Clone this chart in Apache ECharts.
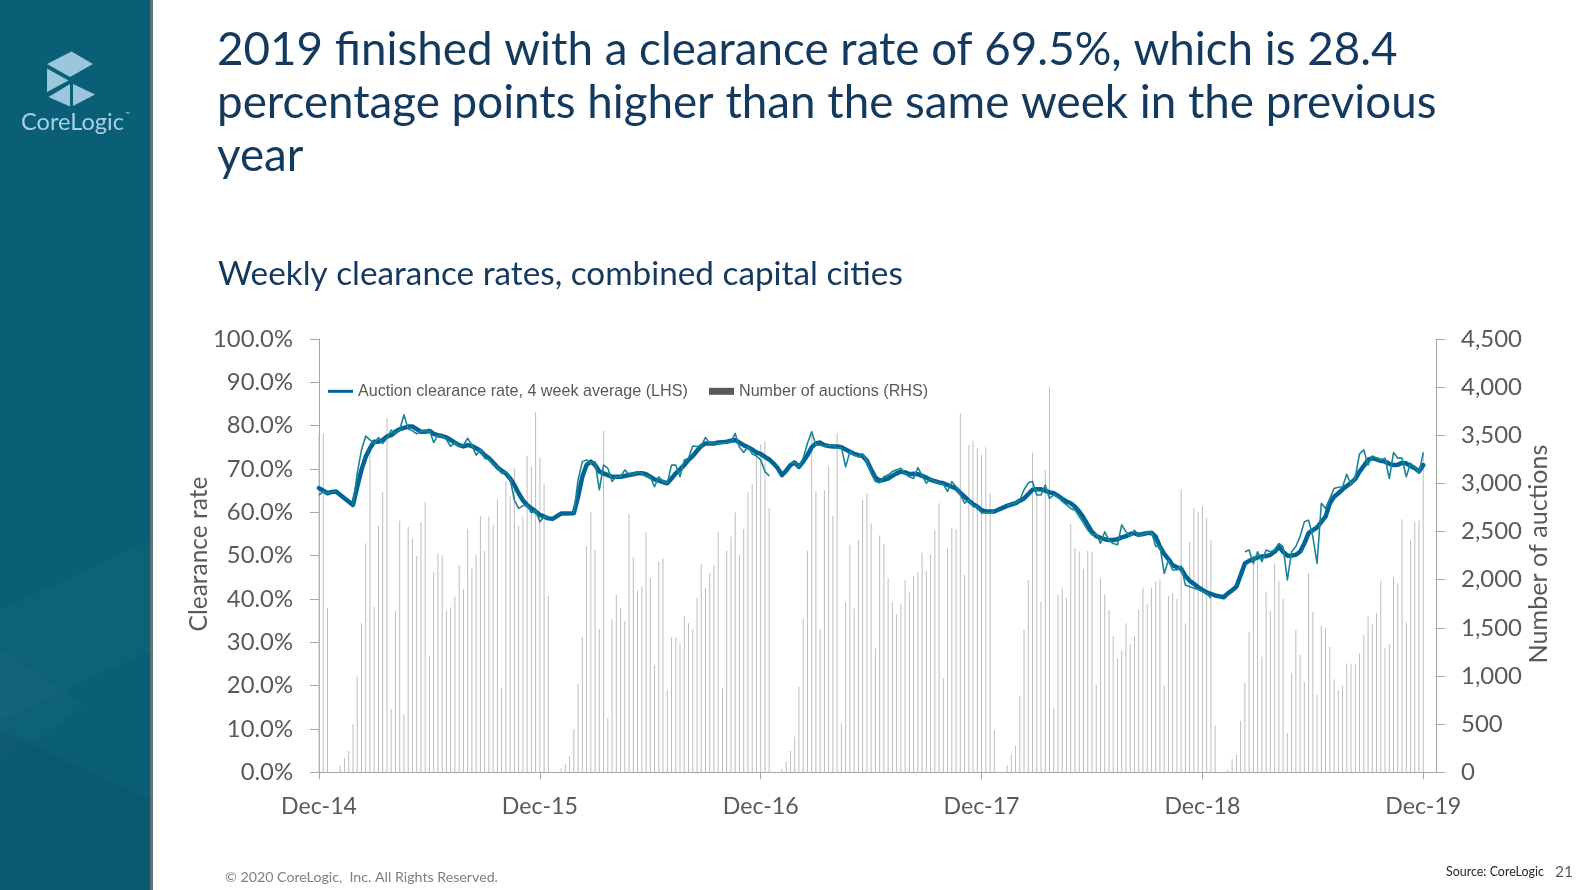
<!DOCTYPE html>
<html><head><meta charset="utf-8">
<script src="https://cdn.jsdelivr.net/npm/echarts@6/dist/echarts.min.js"></script>
<style>html,body{margin:0;padding:0;background:#fff;overflow:hidden}#chart{width:1594px;height:890px}</style>
</head><body><div id="chart"></div>
<script>
// ---------------- DATA ----------------
const tickLabels = ['Dec-14','Dec-15','Dec-16','Dec-17','Dec-18','Dec-19'];
const weeksPerTick = 52;
const avgName = 'Auction clearance rate, 4 week average (LHS)';
const weeklyName = 'Auction clearance rate, weekly (LHS)';
const barName = 'Number of auctions (RHS)';
const leftAxisName = 'Clearance rate';
const rightAxisName = 'Number of auctions';

// number of auctions per week (RHS)
const auctions = [
3510,3520,1710,0,0,66,145,222,502,993,
1547,2378,3417,1720,2558,2908,3676,658,1679,2613,
602,2548,2430,2246,2596,2804,1208,2084,2274,2253,
1679,1713,1824,2150,1904,2523,2118,2253,2662,2298,
2655,2568,2835,872,3029,2863,3153,2558,2655,3288,
3178,3738,3268,2998,1831,0,0,42,87,170,
450,917,1402,2354,2703,2309,1488,3545,561,1589,
1842,1710,1572,2686,2233,1883,1928,2492,2021,1115,
2188,2222,855,1402,1402,1340,1617,1547,1485,1814,
2164,1911,2067,2153,2492,872,2302,2447,2697,2257,
2527,2908,2994,3313,3406,3441,2742,0,0,31,
111,225,370,890,1596,2302,3548,2922,1485,2932,
3181,2665,3520,509,1765,2361,1703,2413,2828,2897,
2586,1288,2458,2371,2015,1772,1641,1748,1997,1866,
2039,2077,2281,2091,2267,2517,2793,976,2326,2541,
2527,3728,2049,3399,3444,3372,3295,3375,2897,440,
0,0,76,190,277,793,1478,1997,3320,2897,
1772,3140,3998,672,1848,1918,1807,2575,2326,2292,
2108,2298,2292,907,2015,1848,1686,1416,1184,1270,
1547,1329,1416,1693,1918,1748,1918,1985,2000,896,
1831,1859,1800,2939,1547,2395,2748,2707,2766,2638,
2413,481,0,0,24,135,180,536,930,1454,
2250,2230,1200,1876,1675,2170,1990,1800,405,1035,
1478,1218,941,2067,1668,803,1520,1495,1305,966,
855,897,1132,1121,1121,1236,1426,1623,1537,1651,
1990,1288,1333,2025,1963,2627,1558,2420,2603,2613,
3330];

// 4 week average clearance rate, % (LHS)
const clearanceAvg = [
65.6,65.0,64.4,64.7,64.8,null,null,null,61.7,65.9,
69.8,72.8,74.8,76.3,76.3,76.7,77.5,77.8,78.6,79.2,
79.5,79.8,79.8,79.2,78.6,78.6,78.8,78.1,77.8,77.6,
77.3,76.7,76.1,75.5,75.2,75.5,75.3,74.8,74.2,73.2,
72.5,71.5,70.4,69.6,69.0,67.8,66.3,64.4,62.8,61.7,
60.9,60.2,59.4,59.0,58.6,58.5,null,59.7,null,null,
59.8,63.6,68.2,70.9,71.7,70.9,69.4,69.0,68.6,68.2,
68.2,68.2,68.4,68.6,68.8,69.0,69.0,68.8,68.2,67.6,
67.3,67.0,66.7,67.8,69.0,69.9,70.9,72.1,73.0,74.2,
75.3,75.9,75.9,75.9,76.1,76.2,76.3,76.5,76.7,76.1,
75.5,75.0,74.5,73.8,73.5,72.8,72.2,71.3,70.2,68.6,
69.6,70.9,71.5,70.5,71.7,73.2,75.0,75.9,76.1,75.5,
75.3,75.2,75.2,75.0,74.5,74.0,73.5,73.2,73.0,71.9,
69.9,68.0,67.3,67.5,67.8,68.4,69.0,69.4,69.2,68.8,
68.9,68.8,68.4,68.0,67.5,67.2,66.9,66.7,66.3,65.9,
65.5,64.5,63.6,62.7,61.9,61.3,60.5,60.2,60.2,60.2,
null,null,61.5,61.8,62.1,62.7,63.2,64.2,65.2,65.3,
65.3,65.0,64.6,64.4,63.8,63.1,62.5,62.1,61.3,60.2,
58.8,57.1,55.5,54.5,54.1,53.8,53.6,53.6,53.8,54.2,
54.5,55.0,55.2,54.8,55.0,55.2,55.3,54.4,52.1,50.4,
49.2,47.8,47.3,47.0,45.3,44.2,43.5,42.7,42.1,41.5,
41.2,40.8,null,40.4,41.3,42.0,42.8,45.5,48.2,48.8,
49.2,49.6,49.8,49.9,50.2,50.9,52.1,50.9,50.0,50.0,
50.2,50.9,52.8,55.2,55.9,56.5,57.8,59.0,62.1,63.6,
64.4,65.3,66.1,66.8,67.7,69.4,70.7,72.1,72.5,72.2,
71.9,71.7,71.2,70.9,71.0,71.4,71.3,70.7,70.2,69.4,
70.9];

// weekly clearance rate, % (LHS, thin line)
const clearanceWeekly = [
64.0,64.8,64.4,64.7,64.8,null,null,null,61.7,69.0,
74.4,77.6,76.7,75.9,77.3,75.9,77.1,79.0,78.1,79.0,
82.5,79.2,78.8,78.1,78.8,78.6,79.0,76.1,77.8,77.6,
76.8,75.2,76.1,75.2,75.5,77.1,75.5,73.2,74.4,72.5,
72.2,70.9,70.5,69.0,69.4,67.8,62.8,60.9,61.5,61.7,
59.9,60.5,57.8,59.0,58.8,null,null,null,null,null,
59.8,67.5,71.7,72.1,71.3,71.7,65.2,70.9,70.2,67.1,
68.2,68.2,69.8,68.8,68.8,69.4,69.0,68.2,68.2,65.9,
68.2,67.1,66.7,70.9,70.9,68.2,72.1,72.5,75.3,75.2,
75.3,77.3,75.9,75.9,75.9,75.9,76.1,76.3,78.2,75.0,
73.8,75.2,73.5,73.0,72.1,69.4,68.4,null,null,null,
null,71.3,71.5,70.5,72.5,75.9,78.6,75.5,75.5,75.2,
75.5,75.5,74.8,75.0,70.5,74.0,73.2,72.8,73.5,71.7,
69.0,67.1,66.8,68.2,68.6,69.4,69.8,70.2,68.8,68.2,
67.8,70.3,68.5,66.7,67.8,67.1,66.7,66.5,64.8,67.1,
65.9,64.0,62.1,62.8,61.3,61.3,59.8,59.9,59.9,60.2,
null,null,61.5,61.9,62.2,62.8,65.2,66.8,67.1,64.0,
64.0,66.3,63.2,64.0,63.6,62.5,61.7,60.9,60.5,59.0,
57.5,55.9,54.8,55.0,52.8,55.5,53.6,52.8,52.5,57.1,
55.5,54.4,55.9,54.4,55.0,55.2,55.5,52.1,52.2,45.9,
49.0,46.7,46.7,47.6,43.2,42.8,42.5,42.2,41.7,41.3,
40.2,null,null,null,null,null,null,null,50.9,51.3,
48.2,50.9,48.6,51.3,50.9,51.3,52.8,52.1,44.4,50.9,
52.1,54.4,57.8,58.2,54.4,48.2,62.1,60.9,63.2,65.5,
65.8,65.9,68.8,66.3,68.2,73.5,74.4,70.9,73.0,72.5,
72.1,72.5,67.8,73.8,72.5,72.5,68.2,71.3,70.5,69.0,
73.8];

// ---------------- TEXT FITTING ----------------
const cv = document.createElement('canvas').getContext('2d');
function textW(t, fam, size, weight){ cv.font = (weight||'normal') + ' ' + size + 'px ' + fam; return cv.measureText(t).width; }
function fit(t, fam, w, weight){ return 100 * w / textW(t, fam, 100, weight); }
function hasFont(f){
  const s = 'abcdefghijklmnopqrstuvwxyz ABCDEFG 0123456789';
  return textW(s, "'" + f + "', monospace", 50) !== textW(s, 'monospace', 50) ||
         textW(s, "'" + f + "', serif", 50) !== textW(s, 'serif', 50);
}
const BODY = 'Lato';
const legFam = hasFont('Liberation Sans Narrow') ? "'Liberation Sans Narrow'" : "'Liberation Sans'";

const titleL1 = '2019 finished with a clearance rate of 69.5%, which is 28.4';
const titleL2 = 'percentage points higher than the same week in the previous';
const titleL3 = 'year';
const subTitle = 'Weekly clearance rates, combined capital cities';
const footer = '\u00A9 2020 CoreLogic,  Inc. All Rights Reserved.';
const source = 'Source: CoreLogic';
const pageNo = '21';

const titleSize = (fit(titleL1, BODY, 1171) + fit(titleL2, BODY, 1230)) / 2;
const subSize = fit(subTitle, BODY, 685);
const yLabSize = fit('100.0%', BODY, 80);
const rLabSize = fit('4,500', BODY, 61);
const xLabSize = fit('Dec-14', BODY, 76);
const lNameSize = fit(leftAxisName, BODY, 155);
const rNameSize = fit(rightAxisName, BODY, 219);
const footSize = fit(footer, BODY, 273);
const srcSize = fit(source, BODY, 98);
const pgSize = fit(pageNo, BODY, 18);
const logoSize = fit('CoreLogic', BODY, 103);
const legSize = fit(avgName, legFam, 330);

function txt(text, x, baseline, size, color, align){
  return { type: 'text', x: x, y: baseline - 0.32 * size, z: 10,
    style: { text: text, font: size.toFixed(2) + 'px ' + BODY, fill: color, align: align || 'left', verticalAlign: 'middle' } };
}
function vtxt(text, cx, cy, size, color){
  return { type: 'text', x: cx, y: cy, rotation: Math.PI / 2, z: 10,
    style: { text: text, font: size.toFixed(2) + 'px ' + BODY, fill: color, align: 'center', verticalAlign: 'middle' } };
}

const titleColor = '#13395f';
const axisColor = '#a6a6a6';
const labColor = '#595959';
const graphics = [
  { type: 'rect', shape: { x: 0, y: 0, width: 151, height: 890 }, style: { fill: '#0a5f76' }, z: 0 },
  { type: 'polygon', shape: { points: [[0,610],[151,540],[151,650],[0,720]] }, style: { fill: 'rgba(255,255,255,0.018)' }, z: 1 },
  { type: 'polygon', shape: { points: [[0,650],[85,705],[0,765]] }, style: { fill: 'rgba(255,255,255,0.015)' }, z: 1 },
  { type: 'polygon', shape: { points: [[0,730],[151,800],[151,890],[0,890]] }, style: { fill: 'rgba(0,0,0,0.06)' }, z: 1 },
  { type: 'rect', shape: { x: 150, y: 0, width: 3, height: 890 }, style: { fill: '#5f7178' }, z: 2 },
  { type: 'polygon', shape: { points: [[71.5,51.5],[93,64],[70,77],[47,64]] }, style: { fill: '#9cc6dc' }, z: 3 },
  { type: 'polygon', shape: { points: [[47,68.5],[68.5,80.5],[47,92]] }, style: { fill: '#9cc6dc' }, z: 3 },
  { type: 'polygon', shape: { points: [[48.5,97],[70,84],[70,106.5]] }, style: { fill: '#9cc6dc' }, z: 3 },
  { type: 'polygon', shape: { points: [[73,84],[95,94.5],[73,106]] }, style: { fill: '#9cc6dc' }, z: 3 },
  txt('CoreLogic', 21, 130, logoSize, '#a6cfe3'),
  txt('\u2122', 125, 116, 6, '#a6cfe3'),
  txt(titleL1, 217, 65, titleSize, titleColor),
  txt(titleL2, 217, 118, titleSize, titleColor),
  txt(titleL3, 217, 171, titleSize, titleColor),
  txt(subTitle, 218, 285, subSize, titleColor),
  txt(footer, 225, 882, footSize, '#7f7f7f'),
  txt(source, 1446, 876, srcSize, '#262626'),
  txt(pageNo, 1573, 877, pgSize, '#595959', 'right'),
  vtxt(leftAxisName, 199, 554, lNameSize, labColor),
  vtxt(rightAxisName, 1539, 554, rNameSize, labColor)
];

const tickVals = tickLabels.map((_, k) => k * weeksPerTick);

const chart = echarts.init(document.getElementById('chart'), null, { renderer: 'canvas' });
chart.setOption({
  animation: false,
  backgroundColor: '#ffffff',
  grid: { left: 319, top: 339, width: 1117, height: 433.3, containLabel: false },
  legend: [
    { data: [{ name: avgName, icon: 'rect', itemStyle: { color: '#006596' } }],
      left: 328, top: 393 - legSize * 0.6, padding: 0, itemWidth: 25, itemHeight: 3,
      selectedMode: false, textStyle: { fontFamily: legFam, fontSize: legSize, color: labColor } },
    { data: [{ name: barName, icon: 'rect', itemStyle: { color: '#5a5a5a' } }],
      left: 709, top: 393 - legSize * 0.6, padding: 0, itemWidth: 25, itemHeight: 7,
      selectedMode: false, textStyle: { fontFamily: legFam, fontSize: legSize, color: labColor } }
  ],
  xAxis: {
    type: 'value', min: 0, max: 263, interval: weeksPerTick,
    axisLine: { show: true, lineStyle: { color: axisColor, width: 1 } },
    axisTick: { show: true, length: 7, customValues: tickVals, lineStyle: { color: axisColor } },
    axisLabel: { customValues: tickVals, margin: 23, color: labColor, fontFamily: BODY, fontSize: xLabSize,
      formatter: v => (v % weeksPerTick === 0 ? tickLabels[v / weeksPerTick] : '') },
    splitLine: { show: false }
  },
  yAxis: [
    { type: 'value', min: 0, max: 100, interval: 10, position: 'left',
      axisLine: { show: true, lineStyle: { color: axisColor } },
      axisTick: { show: true, length: 9, lineStyle: { color: axisColor } },
      axisLabel: { margin: 26, color: labColor, fontFamily: BODY, fontSize: yLabSize, formatter: v => v.toFixed(1) + '%' },
      splitLine: { show: false } },
    { type: 'value', min: 0, max: 4500, interval: 500, position: 'right',
      axisLine: { show: true, lineStyle: { color: axisColor } },
      axisTick: { show: true, length: 9, lineStyle: { color: axisColor } },
      axisLabel: { margin: 25, color: labColor, fontFamily: BODY, fontSize: rLabSize, formatter: v => v.toLocaleString('en-US') },
      splitLine: { show: false } }
  ],
  series: [
    { name: barName, type: 'bar', yAxisIndex: 1, barWidth: 1, silent: true, z: 1,
      itemStyle: { color: '#bdbdbd' },
      data: auctions.map((v, i) => [i, v]) },
    { name: avgName, type: 'line', yAxisIndex: 0, showSymbol: false, symbol: 'none', connectNulls: true, z: 3,
      lineStyle: { width: 4.5, color: '#006596', cap: 'round', join: 'round' }, itemStyle: { color: '#006596' },
      data: clearanceAvg.map((v, i) => (v == null ? null : [i, v])).filter(d => d) },
    { name: weeklyName, type: 'line', yAxisIndex: 0, showSymbol: false, symbol: 'none', connectNulls: false, z: 4,
      lineStyle: { width: 1.6, color: '#1b8494', join: 'round' }, itemStyle: { color: '#1b8494' },
      data: clearanceWeekly.map((v, i) => [i, v == null ? '-' : v]) }
  ],
  graphic: graphics
});
</script>
</body></html>
